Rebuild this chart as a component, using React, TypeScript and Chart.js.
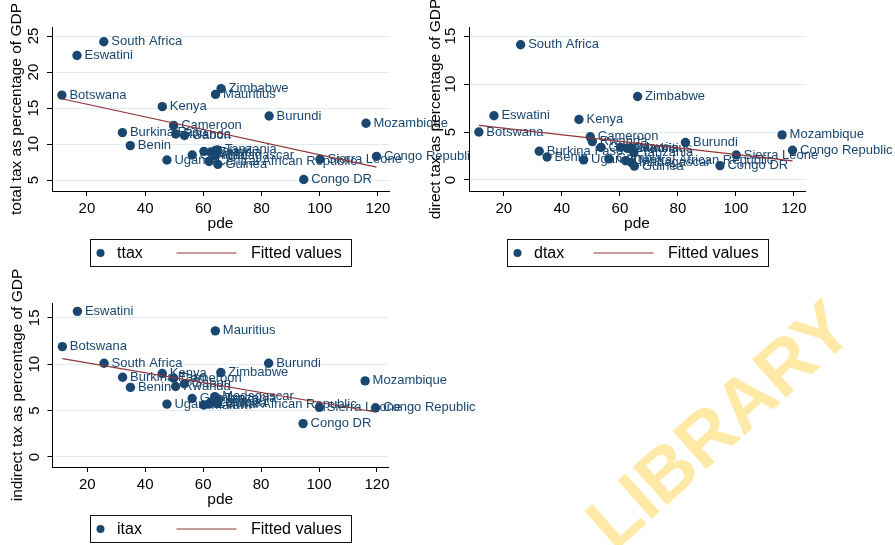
import { useEffect, useRef } from "react";
import { Chart, registerables } from "chart.js";

Chart.register(...registerables);

const FAMILY = '"Liberation Sans", Arial, Helvetica, sans-serif';
const NAVY = "#1a476f";
const MAROON = "#90353b";
const GRID = "#e3ecf0";

// ---- data ----
const countries = [
  "Botswana", "Eswatini", "South Africa", "Burkina Faso", "Benin", "Kenya",
  "Uganda", "Cameroon", "Rwanda", "Gabon", "Gambia", "Malawi",
  "Central African Republic", "Zambia", "Madagascar", "Mauritius", "Tanzania",
  "Guinea", "Zimbabwe", "Burundi", "Congo DR", "Sierra Leone", "Mozambique",
  "Congo Republic",
];
const pde = [
  11.4, 16.6, 25.8, 32.2, 34.9, 45.9, 47.5, 49.8, 50.5, 53.5, 56.2, 60.2,
  62.0, 62.6, 64.0, 64.2, 64.8, 65.0, 66.1, 82.6, 94.5, 100.1, 115.9, 119.5,
];
const ttax = [
  16.8, 22.3, 24.2, 11.6, 9.8, 15.2, 7.8, 12.6, 11.4, 11.2, 8.5, 9.0,
  7.6, 8.9, 8.4, 16.9, 9.2, 7.2, 17.7, 13.9, 5.1, 7.9, 12.9, 8.3,
];
const dtax = [
  5.0, 6.7, 14.1, 3.0, 2.4, 6.3, 2.1, 4.5, 4.0, 3.4, 2.2, 3.4,
  2.0, 3.3, 1.8, 3.3, 2.85, 1.45, 8.7, 3.9, 1.5, 2.6, 4.7, 3.1,
];
const itax = [
  11.9, 15.7, 10.1, 8.6, 7.5, 9.0, 5.7, 8.5, 7.6, 7.9, 6.3, 5.6,
  5.7, 5.9, 6.5, 13.6, 6.3, 5.8, 9.1, 10.1, 3.6, 5.35, 8.2, 5.3,
];
const fitPde = [11.4, 119.5];
const fitTtax = [16.3, 6.8];
const fitDtax = [5.7, 2.0];
const fitItax = [10.6, 4.85];

const xTicks = [20, 40, 60, 80, 100, 120];
const ttaxTicks = [5, 10, 15, 20, 25];
const dtaxTicks = [0, 5, 10, 15];
const itaxTicks = [0, 5, 10, 15];

const W = 895;
const H = 545;
const HX = 40;
const TITLE_SIZE = 15.5;

type PanelCfg = {
  yVals: number[];
  fit: number[];
  yLabel: string;
  series: string;
  yMin: number;
  yMax: number;
  yTicks: number[];
  left: number;
  right: number;
  top: number;
  bottom: number;
  titleX: number;
  clipRight: number;
  watermark: boolean;
};

const panels: PanelCfg[] = [
  {
    yVals: ttax, fit: fitTtax, yLabel: "total tax as percentage of GDP", series: "ttax",
    yMin: 3.5, yMax: 26.25, yTicks: ttaxTicks,
    left: 52, right: 389, top: 27, bottom: 191, titleX: 16.5, clipRight: 469, watermark: false,
  },
  {
    yVals: dtax, fit: fitDtax, yLabel: "direct tax as percentage of GDP", series: "dtax",
    yMin: -1.15, yMax: 15.95, yTicks: dtaxTicks,
    left: 469, right: 805, top: 27, bottom: 191, titleX: 436, clipRight: W, watermark: false,
  },
  {
    yVals: itax, fit: fitItax, yLabel: "indirect tax as percentage of GDP", series: "itax",
    yMin: -1.08, yMax: 16.6, yTicks: itaxTicks,
    left: 52.5, right: 388, top: 303, bottom: 467, titleX: 18, clipRight: W, watermark: true,
  },
];

function makePlugin(cfg: PanelCfg) {
  return {
    id: "stataExtras",
    afterDatasetDraw(chart: any, args: any) {
      if (args.index !== 0) return;
      const ctx = chart.ctx;
      const meta = chart.getDatasetMeta(0);
      ctx.save();
      ctx.beginPath();
      ctx.rect(0, 0, cfg.clipRight, H);
      ctx.clip();
      ctx.font = `13px ${FAMILY}`;
      ctx.fillStyle = NAVY;
      ctx.textAlign = "left";
      ctx.textBaseline = "middle";
      meta.data.forEach((el: any, i: number) => {
        ctx.fillText(countries[i], el.x + 7.5, el.y);
      });
      ctx.restore();
    },
    afterDraw(chart: any) {
      const ctx = chart.ctx;
      const area = chart.chartArea;
      const ys = chart.scales.y;
      // rotated y tick labels
      ctx.save();
      ctx.fillStyle = "#000";
      ctx.font = `15px ${FAMILY}`;
      ctx.textAlign = "center";
      ctx.textBaseline = "middle";
      cfg.yTicks.forEach((v) => {
        const py = ys.getPixelForValue(v);
        ctx.save();
        ctx.translate(area.left - 18, py);
        ctx.rotate(-Math.PI / 2);
        ctx.fillText(String(v), 0, 0);
        ctx.restore();
      });
      ctx.restore();

      // legend box
      const ds = chart.data.datasets;
      const bw = 261;
      const bh = 27;
      const bx = Math.round((area.left + area.right) / 2 - bw / 2) + 0.5;
      const by = Math.round(area.bottom + 48) + 0.5;
      const cy = by + bh / 2;
      ctx.save();
      ctx.fillStyle = "#fff";
      ctx.fillRect(bx, by, bw, bh);
      ctx.strokeStyle = "#111";
      ctx.lineWidth = 1;
      ctx.strokeRect(bx, by, bw, bh);
      ctx.fillStyle = NAVY;
      ctx.beginPath();
      ctx.arc(bx + 10, cy, 4, 0, Math.PI * 2);
      ctx.fill();
      ctx.fillStyle = "#000";
      ctx.font = `16px ${FAMILY}`;
      ctx.textAlign = "left";
      ctx.textBaseline = "middle";
      ctx.fillText(ds[0].label, bx + 26.5, cy + 0.5);
      ctx.strokeStyle = MAROON;
      ctx.lineWidth = 1.2;
      ctx.beginPath();
      ctx.moveTo(bx + 86, cy);
      ctx.lineTo(bx + 146, cy);
      ctx.stroke();
      ctx.fillText(ds[1].label, bx + 160.5, cy + 0.5);
      ctx.restore();

      if (cfg.watermark) {
        ctx.save();
        ctx.translate(722, 428);
        ctx.rotate((-42 * Math.PI) / 180);
        ctx.font = `bold 74px ${FAMILY}`;
        ctx.fillStyle = "#feeaa6";
        ctx.textAlign = "center";
        ctx.textBaseline = "middle";
        ctx.fillText("LIBRARY", 0, 0);
        ctx.restore();
      }
    },
  };
}

function Panel({ cfg }: { cfg: PanelCfg }) {
  const ref = useRef<HTMLCanvasElement>(null);
  useEffect(() => {
    const padLeft = cfg.titleX - TITLE_SIZE / 2;
    const wy = cfg.left - padLeft;
    const chart = new Chart(ref.current as HTMLCanvasElement, {
      type: "scatter",
      data: {
        datasets: [
          {
            label: cfg.series,
            data: pde.map((x, i) => ({ x, y: cfg.yVals[i] })),
            backgroundColor: NAVY,
            borderWidth: 0,
            pointRadius: 4.7,
            pointHoverRadius: 4.7,
            order: 1,
          },
          {
            label: "Fitted values",
            data: fitPde.map((x, i) => ({ x, y: cfg.fit[i] })),
            showLine: true,
            borderColor: MAROON,
            borderWidth: 1.2,
            pointRadius: 0,
            pointHoverRadius: 0,
            order: 0,
          } as any,
        ],
      },
      options: {
        responsive: false,
        maintainAspectRatio: false,
        animation: false,
        devicePixelRatio: 1,
        events: [],
        layout: {
          padding: {
            left: padLeft,
            top: cfg.top,
            right: W - cfg.right,
            bottom: H - cfg.bottom - HX,
          },
        },
        plugins: {
          legend: { display: false },
          tooltip: { enabled: false },
        },
        scales: {
          x: {
            type: "linear",
            position: "bottom",
            min: 8,
            max: 123.8,
            afterBuildTicks: (s: any) => {
              s.ticks = xTicks.map((v) => ({ value: v }));
            },
            afterFit: (s: any) => {
              s.height = HX;
            },
            grid: {
              drawOnChartArea: false,
              drawTicks: true,
              tickLength: 5,
              tickColor: "#000",
              tickWidth: 1,
            },
            border: { display: true, color: "#000", width: 1 },
            ticks: {
              color: "#000",
              font: { family: FAMILY, size: 15 },
              padding: 4,
              maxRotation: 0,
              minRotation: 0,
              autoSkip: false,
            },
            title: {
              display: true,
              text: "pde",
              color: "#000",
              font: { family: FAMILY, size: TITLE_SIZE, lineHeight: 1 },
              padding: 0,
            },
          },
          y: {
            type: "linear",
            position: "left",
            min: cfg.yMin,
            max: cfg.yMax,
            afterBuildTicks: (s: any) => {
              s.ticks = cfg.yTicks.map((v) => ({ value: v }));
            },
            afterFit: (s: any) => {
              s.width = wy;
            },
            grid: {
              color: GRID,
              lineWidth: 1,
              drawTicks: true,
              tickLength: 5,
              tickColor: "#000",
              tickWidth: 1,
            },
            border: { display: true, color: "#000", width: 1 },
            ticks: { display: false },
            title: {
              display: true,
              text: cfg.yLabel,
              color: "#000",
              font: { family: FAMILY, size: TITLE_SIZE, lineHeight: 1 },
              padding: 0,
            },
          },
        },
      } as any,
      plugins: [makePlugin(cfg)],
    });
    return () => chart.destroy();
  }, [cfg]);
  return (
    <canvas
      ref={ref}
      width={W}
      height={H}
      style={{ position: "absolute", left: 0, top: 0, width: W, height: H }}
    />
  );
}

export default function App() {
  return (
    <div
      style={{
        position: "fixed",
        left: 0,
        top: 0,
        width: W,
        height: H,
        background: "#fff",
        overflow: "hidden",
      }}
    >
      {panels.map((p, i) => (
        <Panel key={i} cfg={p} />
      ))}
    </div>
  );
}
